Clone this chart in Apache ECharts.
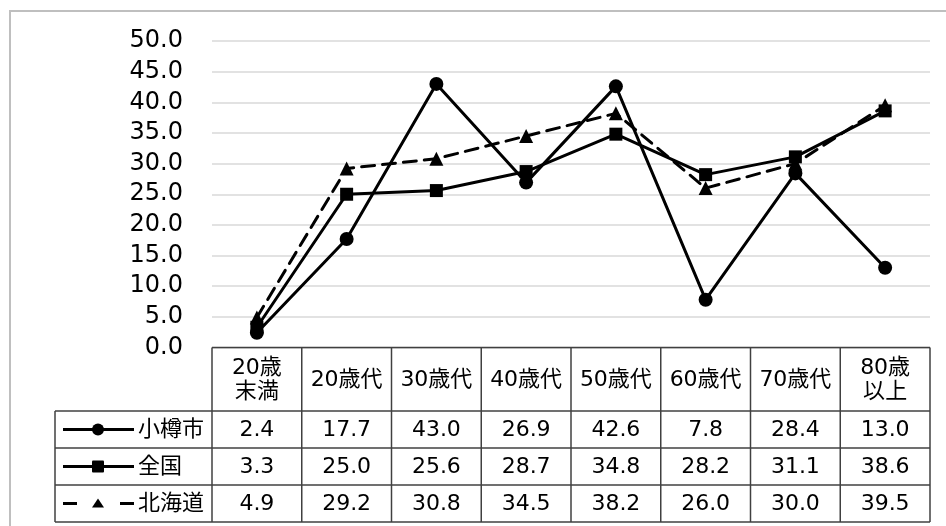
<!DOCTYPE html>
<html>
<head>
<meta charset="utf-8">
<script src="https://cdn.jsdelivr.net/npm/echarts@6/dist/echarts.min.js"></script>
<style>
  html, body { margin: 0; padding: 0; background: #fff; }
  #chart { width: 946px; height: 526px; }
</style>
</head>
<body>
<div id="chart"></div>
<script>
const categories = ['20歳\n末満', '20歳代', '30歳代', '40歳代', '50歳代', '60歳代', '70歳代', '80歳\n以上'];
const otaru = [2.4, 17.7, 43.0, 26.9, 42.6, 7.8, 28.4, 13.0];
const zenkoku = [3.3, 25.0, 25.6, 28.7, 34.8, 28.2, 31.1, 38.6];
const hokkaido = [4.9, 29.2, 30.8, 34.5, 38.2, 26.0, 30.0, 39.5];
const seriesNames = ['小樽市', '全国', '北海道'];
const yTicks = [0, 5, 10, 15, 20, 25, 30, 35, 40, 45, 50];

const FONT = '"DejaVu Sans", "Noto Sans CJK JP", sans-serif';
const gridLeft = 212, gridRight = 930, gridTop = 41, gridBottom = 347.5;
const colW = (gridRight - gridLeft) / categories.length;
const rowY = [gridBottom, 411, 448, 485, 522];
const legendLeft = 55;
const lineColor = '#404040';

const chart = echarts.init(document.getElementById('chart'));

// table built from the arrays
const graphics = [];
graphics.push({
  type: 'rect', silent: true, z: 0,
  shape: { x: 10, y: 11, width: 960, height: 540 },
  style: { fill: 'none', stroke: '#bfbfbf', lineWidth: 2 }
});
function hline(x1, x2, y) {
  graphics.push({ type: 'line', shape: { x1: x1, y1: y, x2: x2, y2: y }, style: { stroke: lineColor, lineWidth: 1.5 }, z: 10 });
}
function vline(x, y1, y2) {
  graphics.push({ type: 'line', shape: { x1: x, y1: y1, x2: x, y2: y2 }, style: { stroke: lineColor, lineWidth: 1.5 }, z: 10 });
}
hline(gridLeft, gridRight, rowY[0]);
for (let r = 1; r < rowY.length; r++) hline(legendLeft, gridRight, rowY[r]);
vline(legendLeft, rowY[1], rowY[4]);
for (let c = 0; c <= categories.length; c++) vline(gridLeft + c * colW, rowY[0], rowY[4]);

categories.forEach((cat, i) => {
  graphics.push({
    type: 'text', z: 11,
    style: {
      text: cat, x: gridLeft + (i + 0.5) * colW, y: (rowY[0] + rowY[1]) / 2 + 1,
      align: 'center', verticalAlign: 'middle', font: '22px ' + FONT, fill: '#000', lineHeight: 24
    }
  });
});
[otaru, zenkoku, hokkaido].forEach((vals, r) => {
  const cy = (rowY[r + 1] + rowY[r + 2]) / 2;
  vals.forEach((v, i) => {
    graphics.push({
      type: 'text', z: 11,
      style: {
        text: v.toFixed(1), x: gridLeft + (i + 0.5) * colW, y: cy + 1,
        align: 'center', verticalAlign: 'middle', font: '22px ' + FONT, fill: '#000'
      }
    });
  });
  graphics.push({
    type: 'text', z: 11,
    style: { text: seriesNames[r], x: 138, y: cy + 1, align: 'left', verticalAlign: 'middle', font: '22px ' + FONT, fill: '#000' }
  });
  // legend key
  if (r < 2) {
    graphics.push({ type: 'line', z: 11, shape: { x1: 63, y1: cy, x2: 134, y2: cy }, style: { stroke: '#000', lineWidth: 3 } });
  } else {
    graphics.push({ type: 'line', z: 11, shape: { x1: 63, y1: cy, x2: 77, y2: cy }, style: { stroke: '#000', lineWidth: 3 } });
    graphics.push({ type: 'line', z: 11, shape: { x1: 120, y1: cy, x2: 134, y2: cy }, style: { stroke: '#000', lineWidth: 3 } });
  }
  if (r === 0) graphics.push({ type: 'circle', z: 12, shape: { cx: 98, cy: cy, r: 6 }, style: { fill: '#000' } });
  if (r === 1) graphics.push({ type: 'rect', z: 12, shape: { x: 92, y: cy - 6, width: 12, height: 12, r: 1 }, style: { fill: '#000' } });
  if (r === 2) graphics.push({ type: 'polygon', z: 12, shape: { points: [[98, cy - 5], [104, cy + 4], [92, cy + 4]] }, style: { fill: '#000' } });
});

chart.setOption({
  animation: false,
  backgroundColor: '#fff',
  textStyle: { fontFamily: FONT },
  grid: { left: gridLeft, right: 946 - gridRight, top: gridTop, bottom: 526 - gridBottom, containLabel: false },
  xAxis: {
    type: 'category',
    data: categories,
    axisLine: { show: false },
    axisTick: { show: false },
    axisLabel: { show: false }
  },
  yAxis: {
    type: 'value',
    min: yTicks[0], max: yTicks[yTicks.length - 1], interval: 5,
    axisLine: { show: false },
    axisTick: { show: false },
    splitLine: { lineStyle: { color: '#d9d9d9', width: 1.5 } },
    axisLabel: { color: '#000', fontSize: 24, fontFamily: FONT, margin: 29, formatter: v => v.toFixed(1) }
  },
  series: [
    {
      name: seriesNames[2], type: 'line', data: hokkaido, z: 2,
      symbol: 'triangle', symbolSize: 14, showAllSymbol: true,
      lineStyle: { color: '#000', width: 3, type: [13, 8], cap: 'round' },
      itemStyle: { color: '#000' }
    },
    {
      name: seriesNames[0], type: 'line', data: otaru, z: 3,
      symbol: 'circle', symbolSize: 14, showAllSymbol: true,
      lineStyle: { color: '#000', width: 3 },
      itemStyle: { color: '#000' }
    },
    {
      name: seriesNames[1], type: 'line', data: zenkoku, z: 4,
      symbol: 'rect', symbolSize: 13, showAllSymbol: true,
      lineStyle: { color: '#000', width: 3 },
      itemStyle: { color: '#000' }
    }
  ],
  graphic: graphics
});
window.addEventListener('resize', () => chart.resize());
</script>
</body>
</html>
